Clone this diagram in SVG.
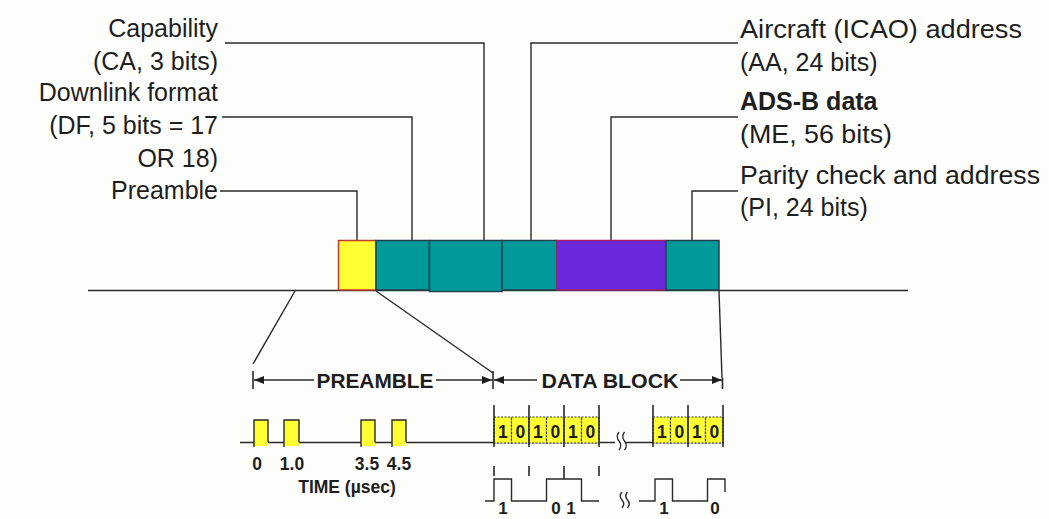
<svg xmlns="http://www.w3.org/2000/svg" width="1049" height="519" viewBox="0 0 1049 519">
<style>
.lbl{font-family:"Liberation Sans",Arial,sans-serif;font-size:25px;fill:#1e1e1e}
.b{font-weight:bold}
.sm{font-family:"Liberation Sans",Arial,sans-serif;font-weight:bold;fill:#1e1e1e}
.ln{fill:none;stroke:#2a2a2a;stroke-width:1.4}
.teal{fill:#009a9a;stroke:#1f4050;stroke-width:1.5}
.bit{fill:#ffff33;stroke:#333;stroke-width:1.2;stroke-dasharray:2 1.5}
.pulse{fill:#ffff33}
.tk{fill:none;stroke:#2a2a2a;stroke-width:1.6}
</style>
<defs>
<marker id="ah" viewBox="0 0 10 8" refX="10" refY="4" markerWidth="11" markerHeight="8" markerUnits="userSpaceOnUse" orient="auto">
<path d="M0 0 L10 4 L0 8 Z" fill="#1e1e1e"/>
</marker>
</defs>
<rect x="0" y="0" width="1049" height="519" fill="#fdfdfb"/>
<path class="ln" d="M88 290.5 H908"/>

<g id="connectors">
<path class="ln" d="M225 43 H484 V240"/>
<path class="ln" d="M222 117 H412 V240"/>
<path class="ln" d="M220 191 H357 V240"/>
<path class="ln" d="M738 43 H531 V240"/>
<path class="ln" d="M738 117 H611 V240"/>
<path class="ln" d="M738 191 H692 V240"/>
<path class="ln" stroke-width="1" d="M295 291 L253 364"/>
<path class="ln" stroke-width="1" d="M376 291 L493 373"/>
<path class="ln" stroke-width="1" d="M719 291 L722 378"/>
</g>

<g id="field-preamble">
<rect x="338.5" y="240.5" width="37.5" height="49.5" fill="#ffff33" stroke="#c0392b" stroke-width="1.5"/>
<text class="lbl" x="218" y="199" text-anchor="end">Preamble</text>
</g>
<g id="field-df">
<rect class="teal" x="376" y="240.5" width="53.5" height="49.5"/>
<text class="lbl" x="218" y="101" text-anchor="end">Downlink format</text>
<text class="lbl" x="218" y="134" text-anchor="end">(DF, 5 bits = 17</text>
<text class="lbl" x="218" y="167" text-anchor="end">OR 18)</text>
</g>
<g id="field-ca">
<rect class="teal" x="429.5" y="240.5" width="72.5" height="51"/>
<text class="lbl" x="218" y="37" text-anchor="end">Capability</text>
<text class="lbl" x="218" y="70" text-anchor="end">(CA, 3 bits)</text>
</g>
<g id="field-aa">
<rect class="teal" x="502" y="240.5" width="55" height="49.5"/>
<text class="lbl" x="740" y="38" textLength="282" lengthAdjust="spacingAndGlyphs">Aircraft (ICAO) address</text>
<text class="lbl" x="740" y="71">(AA, 24 bits)</text>
</g>
<g id="field-me">
<rect x="557" y="240.5" width="109" height="49.5" fill="#6a28d8" stroke="#a0206a" stroke-width="1.5"/>
<text class="lbl b" x="740" y="110">ADS-B data</text>
<text class="lbl" x="740" y="143" textLength="152" lengthAdjust="spacingAndGlyphs">(ME, 56 bits)</text>
</g>
<g id="field-pi">
<rect class="teal" x="666" y="240.5" width="53" height="49.5"/>
<text class="lbl" x="740" y="184" textLength="300" lengthAdjust="spacingAndGlyphs">Parity check and address</text>
<text class="lbl" x="740" y="216">(PI, 24 bits)</text>
</g>

<g id="dimensions">
<path class="tk" d="M253 371 V389 M493 371 V389 M722.5 378 V389"/>
<path class="ln" marker-end="url(#ah)" d="M314 380 H254"/>
<path class="ln" marker-end="url(#ah)" d="M436 380 H492"/>
<path class="ln" marker-end="url(#ah)" d="M537 380 H494"/>
<path class="ln" marker-end="url(#ah)" d="M680 380 H722"/>
<text class="sm" font-size="19.5" x="375" y="388" text-anchor="middle" textLength="117" lengthAdjust="spacingAndGlyphs">PREAMBLE</text>
<text class="sm" font-size="19.5" x="610" y="388" text-anchor="middle" textLength="137" lengthAdjust="spacingAndGlyphs">DATA BLOCK</text>
</g>

<g id="preamble-pulses">
<path class="ln" d="M240 442.5 H615 M626 442.5 H723"/>
<rect class="pulse" x="254" y="420" width="14" height="26"/>
<rect class="pulse" x="284" y="420" width="15" height="26"/>
<rect class="pulse" x="361" y="420" width="14" height="26"/>
<rect class="pulse" x="392" y="420" width="14" height="26"/>
<path class="ln" d="M254 447 V420 H268 V442 M284 447 V420 H299 V442 M361 447 V420 H375 V442 M392 447 V420 H406 V442"/>
<text class="sm" font-size="17.5" x="257" y="470" text-anchor="middle">0</text>
<text class="sm" font-size="17.5" x="292" y="470" text-anchor="middle">1.0</text>
<text class="sm" font-size="17.5" x="367" y="470" text-anchor="middle">3.5</text>
<text class="sm" font-size="17.5" x="399" y="470" text-anchor="middle">4.5</text>
<text class="sm" font-size="17.5" x="347" y="493" text-anchor="middle">TIME (µsec)</text>
</g>

<g id="data-bits">
<rect class="bit" x="494" y="417" width="17.5" height="26"/>
<rect class="bit" x="511.5" y="417" width="17.5" height="26"/>
<rect class="bit" x="529" y="417" width="17.5" height="26"/>
<rect class="bit" x="546.5" y="417" width="17.5" height="26"/>
<rect class="bit" x="564" y="417" width="17.5" height="26"/>
<rect class="bit" x="581.5" y="417" width="17.5" height="26"/>
<rect class="bit" x="653" y="417" width="17.5" height="26"/>
<rect class="bit" x="670.5" y="417" width="17.5" height="26"/>
<rect class="bit" x="688" y="417" width="17.5" height="26"/>
<rect class="bit" x="705.5" y="417" width="17.5" height="26"/>
<path class="tk" d="M494 405 V447 M529 405 V447 M564 405 V447 M599 405 V447 M653 405 V447 M688 405 V447 M723 405 V447"/>
<g class="sm" font-size="17.5" text-anchor="middle">
<text x="502.8" y="437.5">1</text><text x="520.3" y="437.5">0</text>
<text x="537.8" y="437.5">1</text><text x="555.3" y="437.5">0</text>
<text x="572.8" y="437.5">1</text><text x="590.3" y="437.5">0</text>
<text x="661.8" y="437.5">1</text><text x="679.3" y="437.5">0</text>
<text x="696.8" y="437.5">1</text><text x="714.3" y="437.5">0</text>
</g>
<path class="ln" stroke-width="1.3" d="M619 432 q-3.5 4.5 0 9 q3.5 4.5 0 9 M624.5 432 q-3.5 4.5 0 9 q3.5 4.5 0 9"/>
</g>

<g id="waveform">
<path class="tk" d="M494 466 V476 M529 466 V476 M564 466 V479 M599 466 V476"/>
<path class="ln" d="M485 501 H494 V479 H511.5 V501 H546.5 V479 H581.5 V501 H599"/>
<path class="ln" d="M639 501 H655 V479 H672.5 V501 H707.5 V479 H725 V492"/>
<path class="ln" stroke-width="1.3" d="M622 492 q-3.5 4 0 8 q3.5 4 0 8 M627.5 492 q-3.5 4 0 8 q3.5 4 0 8"/>
<g class="sm" font-size="17" text-anchor="middle">
<text x="503" y="514">1</text><text x="556" y="514">0</text><text x="571" y="514">1</text>
<text x="664" y="514">1</text><text x="715" y="514">0</text>
</g>
</g>
</svg>
